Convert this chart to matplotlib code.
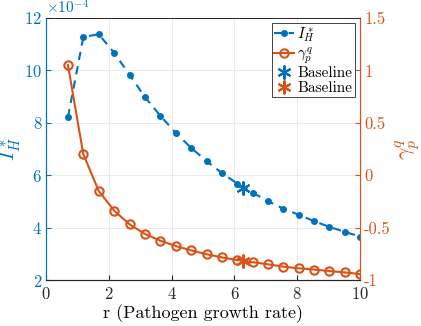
import numpy as np
import matplotlib
matplotlib.use('Agg')
import matplotlib.pyplot as plt
from matplotlib.ticker import FuncFormatter

plt.rcParams['font.family'] = 'serif'
plt.rcParams['font.serif'] = ['cmr10']
plt.rcParams['mathtext.fontset'] = 'cm'
plt.rcParams['axes.formatter.use_mathtext'] = True

# data
r = [0.69, 1.18, 1.67, 2.17, 2.66, 3.14, 3.64, 4.13, 4.62, 5.12,
     5.60, 6.09, 6.58, 7.07, 7.56, 8.05, 8.53, 9.02, 9.51, 10.0]
I_H = np.array([8.21, 11.27, 11.38, 10.66, 9.82, 8.99, 8.26, 7.61, 7.04, 6.53,
                6.08, 5.68, 5.33, 5.01, 4.72, 4.49, 4.25, 4.03, 3.84, 3.66]) * 1e-4
gamma_pq = [1.05, 0.20, -0.15, -0.34, -0.47, -0.56, -0.625, -0.676, -0.717, -0.755,
            -0.784, -0.81, -0.83, -0.85, -0.873, -0.888, -0.90, -0.914, -0.927, -0.943]
r_base = 6.28
I_H_base = 5.53e-4
gamma_base = -0.82

blue = '#0072BD'
orange = '#D95319'

fig = plt.figure(figsize=(4.21, 3.26), dpi=100)
ax = fig.add_axes([0.110, 0.141, 0.745, 0.804])
ax2 = ax.twinx()

# left axis
l1, = ax.plot(r, I_H, color=blue, marker='o', markersize=4, linewidth=1.5,
              linestyle=(0, (4, 3)), label='$I_H^*$')
b1, = ax.plot([r_base], [I_H_base], linestyle='none', marker=(6, 2, 0), markersize=10,
              color=blue, markeredgewidth=1.5, label='Baseline')
ax.set_xlim(0, 10)
ax.set_ylim(2e-4, 12e-4)
ax.set_xticks([0, 2, 4, 6, 8, 10])
ax.set_yticks(np.arange(2, 13, 2) * 1e-4)
ax.ticklabel_format(axis='y', style='sci', scilimits=(-4, -4))
ax.yaxis.get_offset_text().set_color(blue)
ax.yaxis.get_offset_text().set_fontsize(11)
ax.set_xlabel('r (Pathogen growth rate)', fontsize=13, labelpad=2)
ax.set_ylabel('$I_H^*$', fontsize=15, color=blue)
ax.yaxis.set_label_coords(-0.075, 0.5)
ax.tick_params(axis='y', colors=blue, labelsize=12, direction='in', pad=3)
ax.tick_params(axis='x', colors='#262626', labelsize=12, direction='in', pad=4)
ax.grid(True, color='#e6e6e6', linewidth=0.6)

# right axis
l2, = ax2.plot(r, gamma_pq, '-', color=orange, marker='o', markersize=6,
               markerfacecolor='none', markeredgewidth=1.5, linewidth=1.5,
               label=r'$\gamma_p^q$')
b2, = ax2.plot([r_base], [gamma_base], linestyle='none', marker=(6, 2, 0), markersize=10,
               color=orange, markeredgewidth=1.5, label='Baseline')
ax2.set_ylim(-1, 1.5)
ax2.set_yticks([-1, -0.5, 0, 0.5, 1, 1.5])
ax2.yaxis.set_major_formatter(FuncFormatter(lambda v, p: '%g' % v))
ax2.set_ylabel(r'$\gamma_p^q$', fontsize=16, color=orange, labelpad=2)
ax2.tick_params(axis='y', colors=orange, labelsize=12, direction='in', pad=3)

ax.spines['left'].set_color(blue)
ax2.spines['left'].set_color(blue)
ax2.spines['right'].set_color(orange)
ax.spines['right'].set_color(orange)
for a in (ax, ax2):
    a.spines['top'].set_color('#262626')
    a.spines['bottom'].set_color('#262626')
    a.spines['top'].set_linewidth(0.6)

leg = ax2.legend([l1, l2, b1, b2], ['$I_H^*$', r'$\gamma_p^q$', 'Baseline', 'Baseline'],
                 loc='upper right', fontsize=11, fancybox=False, framealpha=1,
                 edgecolor='#262626', handlelength=1.3, handletextpad=0.2,
                 labelspacing=0.05, borderpad=0.15, borderaxespad=0.35)
leg.get_frame().set_linewidth(0.6)

fig.savefig('out.png', dpi=100)
